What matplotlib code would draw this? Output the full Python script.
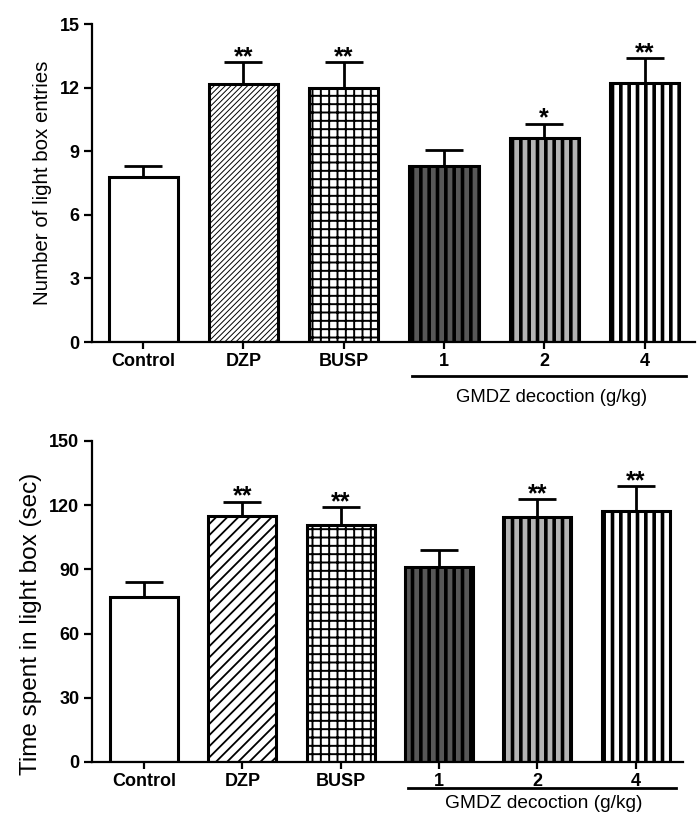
import numpy as np
import matplotlib.pyplot as plt

groups = ['Control', 'DZP', 'BUSP', '1', '2', '4']

entries_mean = [7.8, 12.2, 12.0, 8.3, 9.65, 12.25]
entries_sem = [0.5, 1.0, 1.2, 0.75, 0.65, 1.15]
entries_stars = ['', '**', '**', '', '*', '**']

time_mean = [77.0, 115.0, 110.7, 91.0, 114.3, 117.3]
time_sem = [7.0, 6.6, 8.3, 8.0, 8.6, 11.7]
time_stars = ['', '**', '**', '', '**', '**']

dose_label = 'GMDZ decoction (g/kg)'

arial = ['Liberation Sans', 'DejaVu Sans']


def drawPanel(ax, means, sems, stars, ylabel, ymax, dzpHatch, dzpHatchLw, xlim,
              lineY, textY, labelSize, labelPos, doseSize):
    x = np.arange(len(groups))
    fills = ['white', 'white', 'white', '#585858', '#b4b4b4', 'white']
    hatches = ['', dzpHatch, '++', '||', '||', '||']
    hatchLw = [1.0, dzpHatchLw, 1.4, 2.6, 2.6, 2.6]

    bars = ax.bar(x, means, width=0.69, color=fills, edgecolor='black',
                  linewidth=2.2, zorder=2)
    for bar, h, lw in zip(bars, hatches, hatchLw):
        if h:
            bar.set_hatch(h)
            if hasattr(bar, 'set_hatch_linewidth'):
                bar.set_hatch_linewidth(lw)

    ax.errorbar(x, means, yerr=[np.zeros(len(sems)), sems], fmt='none',
                ecolor='black', elinewidth=2.0, capsize=13.5, capthick=2.0, zorder=1)

    for xi, m, s, st in zip(x, means, sems, stars):
        if st:
            ax.annotate(st, (xi, m + s), xytext=(0, -5), textcoords='offset points',
                        ha='center', va='bottom', fontsize=18, fontweight='bold',
                        family=arial)

    ax.set_xlim(*xlim)
    ax.set_ylim(0, ymax)
    ax.set_yticks(np.linspace(0, ymax, 6))
    ax.set_xticks(x)
    ax.set_xticklabels(groups, fontsize=13, fontweight='bold', family=arial)
    for lab in ax.get_yticklabels():
        lab.set_fontsize(13)
        lab.set_fontweight('bold')
        lab.set_family(arial)
    ax.set_ylabel(ylabel, fontsize=labelSize, family=arial)
    ax.yaxis.set_label_coords(*labelPos)

    for side in ['top', 'right']:
        ax.spines[side].set_visible(False)
    ax.spines['left'].set_linewidth(1.6)
    ax.spines['bottom'].set_linewidth(1.6)
    ax.tick_params(axis='both', direction='out', width=1.6, length=6, pad=3)
    ax.tick_params(axis='x', length=5)

    trans = ax.get_xaxis_transform()
    ax.plot([2.68, 5.41], [lineY, lineY], color='black', lw=2.0,
            transform=trans, clip_on=False)
    ax.text(4.07, textY, dose_label, transform=trans, ha='center', va='center',
            fontsize=doseSize, family=arial)


fig = plt.figure(figsize=(7, 8.19), dpi=100)
axTop = fig.add_axes([0.1314, 0.5824, 0.861, 0.388])
axBottom = fig.add_axes([0.1314, 0.0696, 0.844, 0.392])

drawPanel(axTop, entries_mean, entries_sem, entries_stars,
          'Number of light box entries', 15, '//////', 0.7,
          (-0.51, 5.5), -0.107, -0.176, 14.8, (-0.066, 0.5), 13.3)
drawPanel(axBottom, time_mean, time_sem, time_stars,
          'Time spent in light box (sec)', 150, '///', 1.3,
          (-0.53, 5.48), -0.081, -0.128, 17.5, (-0.085, 0.43), 13.8)

fig.savefig('out.png', dpi=100)
